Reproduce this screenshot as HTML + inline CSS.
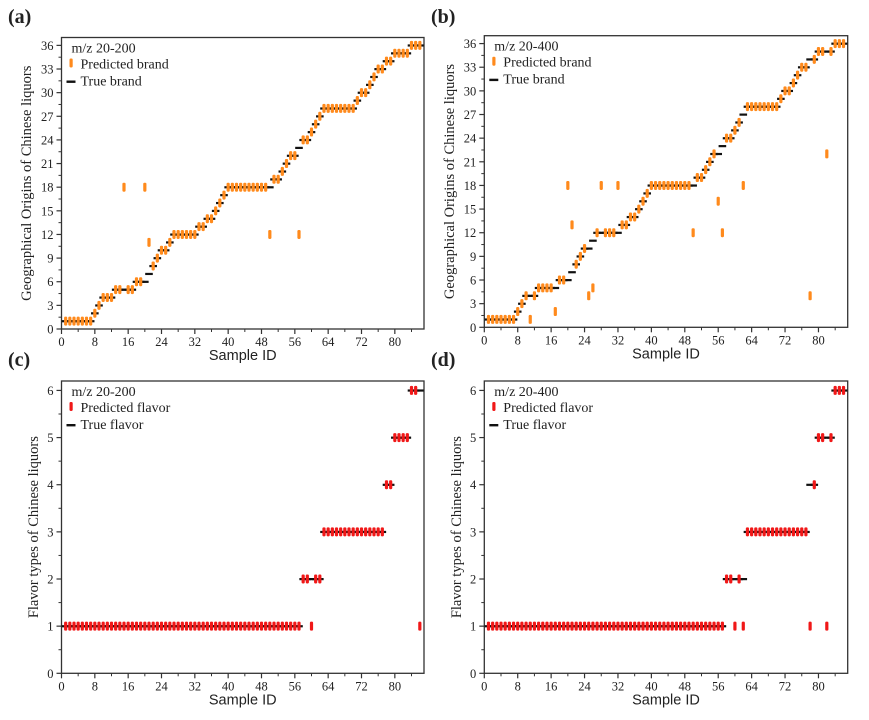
<!DOCTYPE html>
<html><head><meta charset="utf-8">
<style>
html,body{margin:0;padding:0;background:#fff;}
svg{display:block;}
text{font-family:"Liberation Serif",serif;fill:#222;}
.sans{font-family:"Liberation Sans",sans-serif;}
</style></head>
<body>
<svg id="fig" width="869" height="720" viewBox="0 0 869 720" xmlns="http://www.w3.org/2000/svg"></svg>
<script>
// ---- data ----
const sampleIds = Array.from({length:86},(_,i)=>i+1);
const trueBrand = [1,1,1,1,1,1,1,2,3,4,4,4,5,5,5,5,5,6,6,6,7,8,9,10,10,11,12,12,12,12,12,12,13,13,14,14,15,16,17,18,18,18,18,18,18,18,18,18,18,18,19,19,20,21,22,22,23,24,24,25,26,27,28,28,28,28,28,28,28,28,29,30,30,31,32,33,33,34,34,35,35,35,35,36,36,36];
const predBrandA = trueBrand.slice();
const brandErrSamplesA = [15,20,21,50,57];
const brandErrValuesA = [18,18,11,12,12];
const predBrandB = trueBrand.slice();
const brandErrSamplesB = [11,17,20,21,25,26,28,32,50,56,57,62,78,82];
const brandErrValuesB = [1,2,18,13,4,5,18,18,12,16,12,18,4,22];
const trueFlavor = [1,1,1,1,1,1,1,1,1,1,1,1,1,1,1,1,1,1,1,1,1,1,1,1,1,1,1,1,1,1,1,1,1,1,1,1,1,1,1,1,1,1,1,1,1,1,1,1,1,1,1,1,1,1,1,1,1,2,2,2,2,2,3,3,3,3,3,3,3,3,3,3,3,3,3,3,3,4,4,5,5,5,5,6,6,6];
const predFlavorC = trueFlavor.slice();
const flavorErrSamplesC = [60,86];
const flavorErrValuesC = [1,1];
const predFlavorD = trueFlavor.slice();
const flavorErrSamplesD = [60,62,78,82];
const flavorErrValuesD = [1,1,1,1];
const xTicks = [0,8,16,24,32,40,48,56,64,72,80];
const brandTicks = [0,3,6,9,12,15,18,21,24,27,30,33,36];
const flavorTicks = [0,1,2,3,4,5,6];

brandErrSamplesA.forEach((s,i)=>predBrandA[s-1]=brandErrValuesA[i]);
brandErrSamplesB.forEach((s,i)=>predBrandB[s-1]=brandErrValuesB[i]);
flavorErrSamplesC.forEach((s,i)=>predFlavorC[s-1]=flavorErrValuesC[i]);
flavorErrSamplesD.forEach((s,i)=>predFlavorD[s-1]=flavorErrValuesD[i]);

const NS="http://www.w3.org/2000/svg";
const svg=document.getElementById('fig');
function mk(tag,attrs,parent){const e=document.createElementNS(NS,tag);for(const k in attrs)e.setAttribute(k,attrs[k]);(parent||svg).appendChild(e);return e;}

function panel(cfg){
  const g=mk('g',{});
  
  
  const L=cfg.left,R=cfg.right,T=cfg.top,B=cfg.bottom;
  const xs=v=>L+(v-0)*(R-L)/87;
  const ys=v=>B-(v-0)*(B-T)/cfg.ymax;
  // panel letter
  const pl=mk('text',{x:cfg.lx,y:cfg.ly,'font-size':20,'font-weight':'bold'},g);pl.textContent=cfg.letter;
  
  
  // frame
  const fr=mk('rect',{x:L,y:T,width:R-L,height:B-T,fill:'none',stroke:'#333','stroke-width':1.3},g);
  
  
  // x ticks
  const xa=mk('g',{},g);
  
  
  xTicks.forEach(t=>{
    mk('line',{x1:xs(t),x2:xs(t),y1:B,y2:B+5,stroke:'#333','stroke-width':1.2},xa);
    mk('line',{x1:xs(t+4),x2:xs(t+4),y1:B,y2:B+3,stroke:'#333','stroke-width':1},xa);
    const tl=mk('text',{x:xs(t),y:B+17,'font-size':12.5,'text-anchor':'middle'},xa);tl.textContent=t;
  });
  const xt=mk('text',{x:(L+R)/2,y:B+31,'font-size':14.5,'text-anchor':'middle',class:'sans'},g);xt.textContent='Sample ID';
  
  
  // y ticks
  const ya=mk('g',{},g);
  
  
  cfg.yticks.forEach((t,i)=>{
    mk('line',{x1:L-5,x2:L,y1:ys(t),y2:ys(t),stroke:'#333','stroke-width':1.2},ya);
    if(i<cfg.yticks.length-1){const m=(t+cfg.yticks[i+1])/2;mk('line',{x1:L-3,x2:L,y1:ys(m),y2:ys(m),stroke:'#333','stroke-width':1},ya);}
    const tl=mk('text',{x:L-8,y:ys(t)+4.5,'font-size':12.5,'text-anchor':'end'},ya);tl.textContent=t;
  });
  const yc=(T+B)/2;
  const yt=mk('text',{x:cfg.ytx,y:yc,'font-size':14.5,'text-anchor':'middle',transform:`rotate(-90 ${cfg.ytx} ${yc})`},g);yt.textContent=cfg.ytitle;
  
  
  // true dashes
  const tg=mk('g',{},g);
  
  
  sampleIds.forEach((s,i)=>{
    const d=mk('rect',{x:xs(s)-3.8,y:ys(cfg.truth[i])-1,width:7.6,height:2.2,fill:'#111'},tg);
    
    
  });
  const pg=mk('g',{},g);
  
  
  sampleIds.forEach((s,i)=>{
    const p=mk('rect',{x:xs(s)-1.6,y:ys(cfg.pred[i])-4.5,width:3.2,height:9,rx:1.2,fill:cfg.color},pg);
    
    
  });
  // legend
  const lg=mk('g',{},g);
  
  
  const t1=mk('text',{x:L+10,y:T+15,'font-size':14},lg);t1.textContent=cfg.mz;
  mk('rect',{x:L+8,y:T+21,width:3.2,height:9,rx:1.2,fill:cfg.color},lg);
  const t2=mk('text',{x:L+19,y:T+31,'font-size':14},lg);t2.textContent=cfg.predLabel;
  mk('rect',{x:L+5,y:T+43,width:9,height:2.4,fill:'#111'},lg);
  const t3=mk('text',{x:L+19,y:T+48,'font-size':14},lg);t3.textContent=cfg.trueLabel;
}

const yBrand='Geographical Origins of Chinese liquors';
const yFlavor='Flavor types of Chinese liquors';
panel({name:'panel-a',letter:'(a)',lx:8,ly:23,left:61.5,right:424,top:37.5,bottom:329,ymax:37,yticks:brandTicks,ytx:31,ytitle:yBrand,truth:trueBrand,pred:predBrandA,color:'#ff8a1c',mz:'m/z 20-200',predLabel:'Predicted brand',trueLabel:'True brand'});
panel({name:'panel-b',letter:'(b)',lx:431,ly:23,left:484.3,right:847.7,top:35.7,bottom:327.3,ymax:37,yticks:brandTicks,ytx:454,ytitle:yBrand,truth:trueBrand,pred:predBrandB,color:'#ff8a1c',mz:'m/z 20-400',predLabel:'Predicted brand',trueLabel:'True brand'});
panel({name:'panel-c',letter:'(c)',lx:8,ly:366,left:61.5,right:424,top:381,bottom:673.3,ymax:6.2,yticks:flavorTicks,ytx:38,ytitle:yFlavor,truth:trueFlavor,pred:predFlavorC,color:'#f01818',mz:'m/z 20-200',predLabel:'Predicted flavor',trueLabel:'True flavor'});
panel({name:'panel-d',letter:'(d)',lx:431,ly:366,left:484.3,right:847.7,top:381,bottom:673.3,ymax:6.2,yticks:flavorTicks,ytx:461,ytitle:yFlavor,truth:trueFlavor,pred:predFlavorD,color:'#f01818',mz:'m/z 20-400',predLabel:'Predicted flavor',trueLabel:'True flavor'});
</script>
</body></html>
